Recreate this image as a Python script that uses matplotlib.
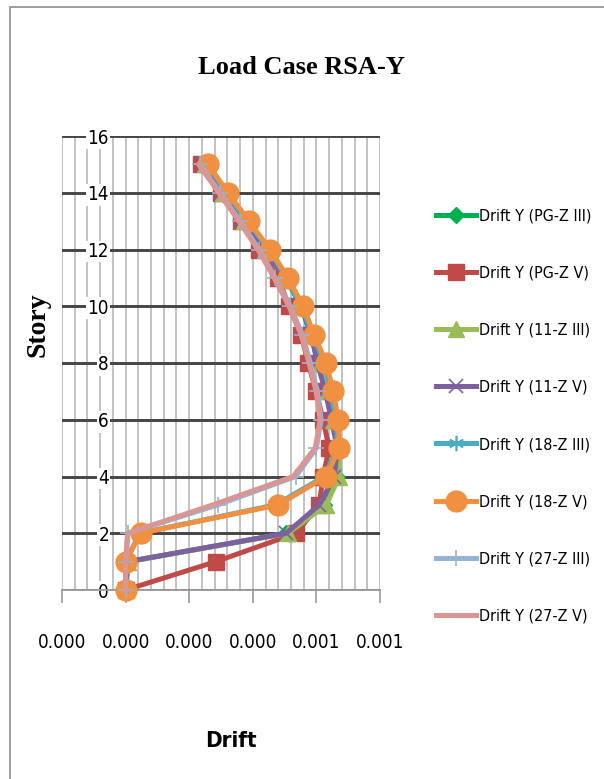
import os
import numpy as np
import matplotlib
matplotlib.use("Agg")
import matplotlib.pyplot as plt
from matplotlib import font_manager
from matplotlib.patches import Rectangle
from matplotlib.ticker import MultipleLocator, FuncFormatter

# ─── DATA ───────────────────────────────────────────────────────────────────
stories = [0, 1, 2, 3, 4, 5, 6, 7, 8, 9, 10, 11, 12, 13, 14, 15]

drift_pg_z3 = [0, 0.000008, 0.000505, 0.000625, 0.000665, 0.000668, 0.000650, 0.000630,
               0.000605, 0.000583, 0.000551, 0.000504, 0.000434, 0.000369, 0.000303, 0.000246]
drift_pg_z5 = [0, 0.000284, 0.000536, 0.000609, 0.000621, 0.000640, 0.000621, 0.000599,
               0.000574, 0.000552, 0.000514, 0.000480, 0.000420, 0.000363, 0.000300, 0.000237]
drift_11_z3 = [0, 0.000009, 0.000511, 0.000631, 0.000672, 0.000672, 0.000653, 0.000634,
               0.000609, 0.000587, 0.000555, 0.000508, 0.000438, 0.000372, 0.000306, 0.000249]
drift_11_z5 = [0, 0.000006, 0.000505, 0.000609, 0.000656, 0.000666, 0.000647, 0.000628,
               0.000603, 0.000584, 0.000552, 0.000505, 0.000432, 0.000363, 0.000300, 0.000243]
drift_18_z3 = [0, 0, 0.000044, 0.000472, 0.000625, 0.000666, 0.000663, 0.000647,
               0.000625, 0.000588, 0.000553, 0.000506, 0.000449, 0.000384, 0.000318, 0.000256]
drift_18_z5 = [0, 0, 0.000047, 0.000480, 0.000631, 0.000672, 0.000669, 0.000653,
               0.000631, 0.000593, 0.000558, 0.000511, 0.000454, 0.000388, 0.000322, 0.000259]
drift_27_z3 = [0, 0, 0.000008, 0.000290, 0.000535, 0.000600, 0.000615, 0.000603,
               0.000581, 0.000556, 0.000518, 0.000471, 0.000420, 0.000360, 0.000297, 0.000234]
drift_27_z5 = [0, 0, 0.000006, 0.000274, 0.000527, 0.000596, 0.000612, 0.000599,
               0.000577, 0.000552, 0.000514, 0.000467, 0.000416, 0.000356, 0.000293, 0.000230]

series_labels = ["Drift Y (PG-Z III)", "Drift Y (PG-Z V)", "Drift Y (11-Z III)", "Drift Y (11-Z V)",
                 "Drift Y (18-Z III)", "Drift Y (18-Z V)", "Drift Y (27-Z III)", "Drift Y (27-Z V)"]


# ─── FONTS ──────────────────────────────────────────────────────────────────
def find_narrow(bold=False):
    """Look for a condensed sans font file; None if there is none."""
    if bold:
        wanted = ["LiberationSansNarrow-Bold.ttf", "NotoSans-CondensedBold.ttf",
                  "DejaVuSansCondensed-Bold.ttf", "RobotoCondensed-Bold.ttf"]
    else:
        wanted = ["LiberationSansNarrow-Regular.ttf", "NotoSans-Condensed.ttf",
                  "NotoSans-CondensedRegular.ttf", "DejaVuSansCondensed.ttf",
                  "RobotoCondensed-Regular.ttf"]
    files = {os.path.basename(f.fname): f.fname for f in font_manager.fontManager.ttflist}
    for w in wanted:
        if w in files:
            return files[w]
    return None


narrow_reg = find_narrow(False)
narrow_bold = find_narrow(True)
if narrow_reg:
    def nfont(size):
        return font_manager.FontProperties(fname=narrow_reg, size=size)
    TICK_SIZE, LEG_SIZE = 13.5, 11.5
else:
    def nfont(size):
        return font_manager.FontProperties(family=["Liberation Sans", "DejaVu Sans"], size=size)
    TICK_SIZE, LEG_SIZE = 13, 12
if narrow_bold:
    drift_font = font_manager.FontProperties(fname=narrow_bold, size=16)
else:
    drift_font = font_manager.FontProperties(family=["Liberation Sans", "DejaVu Sans"],
                                             weight="bold", size=14)
SERIF = ["Liberation Serif", "DejaVu Serif"]

styles = [
    dict(color="#00B050", marker="D", ms=8),
    dict(color="#BE4B48", marker="s", ms=11),
    dict(color="#9BBB59", marker="^", ms=11),
    dict(color="#7D60A0", marker="x", ms=10, mew=1.2),
    dict(color="#4BACC6", marker=(6, 2, 0), ms=11, mew=1.2),
    dict(color="#F09040", marker="o", ms=15),
    dict(color="#95B3D7", marker="+", ms=12, mew=1.2),
    dict(color="#D99694", marker=None, ms=0),
]

fig = plt.figure(figsize=(6.04, 7.79), dpi=100)
ax = fig.add_axes([62 / 604, 1 - 590 / 779, (380 - 62) / 604, (590 - 136) / 779])

all_series = [drift_pg_z3, drift_pg_z5, drift_11_z3, drift_11_z5,
              drift_18_z3, drift_18_z5, drift_27_z3, drift_27_z5]
for i, (vals, lab, st) in enumerate(zip(all_series, series_labels, styles)):
    ax.plot(vals, stories, color=st["color"], linewidth=3.6, marker=st["marker"],
            markersize=st["ms"], markeredgewidth=st.get("mew", 1.0),
            markeredgecolor=st["color"], markerfacecolor=st["color"],
            label=lab, zorder=3 + i, clip_on=False)

ax.set_xlim(-0.0002, 0.0008)
ax.set_ylim(0, 16)

ax.xaxis.set_major_locator(MultipleLocator(0.0002))
ax.xaxis.set_minor_locator(MultipleLocator(0.00004))
ax.yaxis.set_major_locator(MultipleLocator(2))
ax.xaxis.set_major_formatter(FuncFormatter(lambda v, p: f"{abs(v):.3f}"))

ax.grid(True, which="major", axis="x", color="#bdbdbd", linewidth=1.3)
ax.grid(True, which="minor", axis="x", color="#bdbdbd", linewidth=1.3)
ax.grid(True, which="major", axis="y", color="#454545", linewidth=2.1)
ax.set_axisbelow(True)

for s in ["top", "right"]:
    ax.spines[s].set_visible(False)
ax.spines["bottom"].set_color("#9a9a9a")
ax.spines["bottom"].set_linewidth(1.3)
ax.spines["left"].set_position(("data", 0))
ax.spines["left"].set_color("none")

ax.tick_params(axis="x", which="major", length=9, width=1.2, color="#9a9a9a", pad=22)
ax.tick_params(axis="x", which="minor", length=0)
ax.tick_params(axis="y", length=0, pad=12)
for t in ax.get_xticklabels() + ax.get_yticklabels():
    t.set_fontproperties(nfont(TICK_SIZE))
for t in ax.get_yticklabels():
    t.set_bbox(dict(facecolor="white", edgecolor="none", pad=1))

ax.set_xlabel("Drift", fontproperties=drift_font)
ax.xaxis.set_label_coords(0.53, -0.31)
ax.set_ylabel("Story", family=SERIF, fontsize=20, fontweight="bold")
ax.yaxis.set_label_coords(-0.035, 0.585)

fig.text(0.5, 1 - 68 / 779, "Load Case RSA-Y", ha="center", va="center",
         family=SERIF, fontsize=19, fontweight="bold")

leg_px = LEG_SIZE * 100 / 72
leg = ax.legend(loc="center left", bbox_to_anchor=(428 / 604, 1 - 416 / 779),
                bbox_transform=fig.transFigure, frameon=False,
                prop=nfont(LEG_SIZE), handlelength=2.5,
                handletextpad=0.2, labelspacing=(57.5 - 0.96 * leg_px) / leg_px,
                borderpad=0)

# chart border
fig.patches.append(Rectangle((10 / 604, -0.05), 1.2, 0.991 + 0.05, transform=fig.transFigure,
                             fill=False, edgecolor="#8c8c8c", linewidth=1.2))

fig.savefig("out.png", dpi=100)
